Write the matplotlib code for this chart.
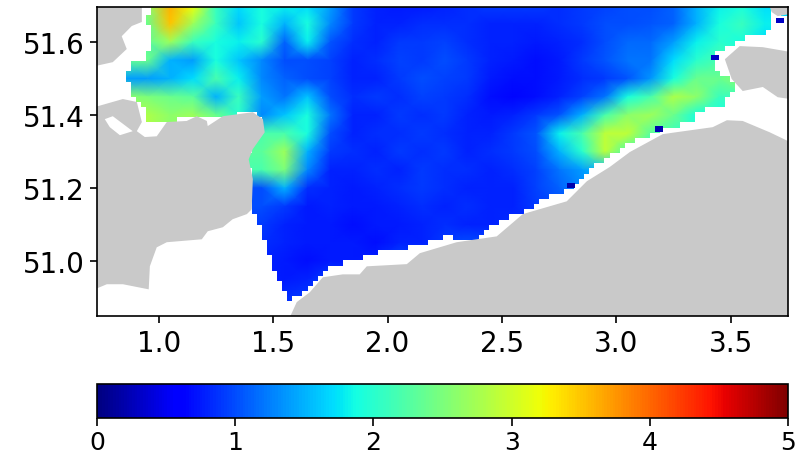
import numpy as np
import matplotlib
matplotlib.use('Agg')
import matplotlib.pyplot as plt
from matplotlib.patches import Polygon

# Grid of the field (columns = lon, rows = lat)
lons = [0.75, 0.85, 0.95, 1.05, 1.15, 1.25, 1.35, 1.45, 1.55, 1.65, 1.75, 1.85, 1.95, 2.05, 2.15, 2.25,
        2.35, 2.45, 2.55, 2.65, 2.75, 2.85, 2.95, 3.05, 3.15, 3.25, 3.35, 3.45, 3.55, 3.65, 3.75]
lats = [51.70, 51.65, 51.60, 51.55, 51.50, 51.45, 51.40, 51.35, 51.30,
        51.25, 51.20, 51.15, 51.10, 51.05, 51.00, 50.95, 50.90, 50.85]

values = [
    [2.6, 2.6, 2.6, 3.6, 3.2, 2.1, 1.7, 1.9, 1.8, 1.7, 1.4, 0.9, 0.8, 0.75, 0.75, 0.8, 0.85, 0.9, 0.9, 0.9, 0.85, 0.9, 0.95, 1.0, 1.0, 1.1, 1.5, 1.8, 1.9, 1.7, 1.7],
    [2.4, 2.4, 2.4, 3.5, 2.7, 2.1, 1.6, 1.9, 1.5, 1.9, 1.3, 0.9, 0.8, 0.8, 0.85, 0.85, 0.85, 0.8, 0.8, 0.8, 0.85, 0.9, 1.0, 1.0, 1.05, 1.1, 1.5, 1.9, 2.1, 1.8, 1.8],
    [2.3, 2.3, 2.3, 2.7, 2.1, 1.9, 1.8, 2.0, 1.1, 1.8, 1.05, 0.85, 0.8, 0.9, 0.9, 0.95, 0.85, 0.8, 0.8, 0.75, 0.8, 0.85, 1.0, 1.15, 1.15, 1.4, 1.8, 2.0, 1.9, 1.7, 1.7],
    [2.3, 2.3, 2.4, 1.5, 1.4, 1.9, 1.6, 1.3, 1.0, 1.0, 0.95, 0.8, 0.85, 0.95, 0.9, 1.0, 0.9, 0.8, 0.75, 0.7, 0.75, 0.9, 1.05, 1.2, 1.2, 1.7, 2.0, 2.2, 2.1, 1.9, 1.9],
    [1.4, 1.4, 1.4, 1.5, 1.7, 2.2, 1.8, 1.3, 1.1, 1.0, 0.95, 0.8, 0.8, 0.9, 1.0, 0.95, 0.9, 0.75, 0.7, 0.7, 0.75, 0.85, 0.9, 1.05, 1.35, 1.9, 2.4, 2.4, 2.6, 2.6, 2.6],
    [2.6, 2.6, 2.5, 2.4, 2.3, 1.5, 2.1, 1.4, 1.2, 1.6, 1.0, 0.85, 0.9, 0.85, 0.95, 0.9, 0.85, 0.7, 0.65, 0.7, 0.8, 0.95, 1.2, 1.9, 2.2, 2.8, 2.6, 2.1, 2.1, 2.1, 2.1],
    [2.8, 2.8, 2.8, 2.6, 2.7, 2.4, 2.0, 1.3, 1.6, 1.9, 1.2, 0.8, 0.8, 0.9, 0.85, 0.9, 0.8, 0.75, 0.8, 0.9, 1.05, 1.5, 2.2, 2.6, 2.7, 2.4, 1.9, 1.9, 1.9, 1.9, 1.9],
    [2.8, 2.8, 2.8, 2.6, 2.6, 2.4, 2.2, 2.2, 2.2, 1.9, 1.0, 0.8, 0.85, 0.85, 0.9, 0.85, 0.8, 0.8, 0.9, 1.05, 1.8, 2.2, 2.9, 2.9, 2.3, 2.1, 2.1, 2.1, 2.1, 2.1, 2.1],
    [2.3, 2.3, 2.3, 2.3, 2.3, 2.3, 2.3, 2.3, 2.7, 1.5, 0.9, 0.85, 0.8, 0.9, 0.85, 0.9, 0.8, 0.85, 0.9, 1.0, 1.5, 2.0, 2.9, 2.2, 2.1, 2.1, 2.1, 2.1, 2.1, 2.1, 2.1],
    [2.2, 2.2, 2.2, 2.2, 2.2, 2.2, 2.2, 2.2, 2.5, 1.3, 0.8, 0.8, 0.85, 0.8, 0.9, 0.85, 0.85, 0.8, 0.85, 0.95, 1.2, 1.4, 1.6, 1.6, 1.6, 1.6, 1.6, 1.6, 1.6, 1.6, 1.6],
    [1.0, 1.0, 1.0, 1.0, 1.0, 1.0, 1.0, 1.0, 1.5, 0.85, 0.8, 0.75, 0.8, 0.85, 0.9, 0.85, 0.8, 0.8, 0.8, 0.95, 1.1, 1.3, 1.3, 1.3, 1.3, 1.3, 1.3, 1.3, 1.3, 1.3, 1.3],
    [1.0, 1.0, 1.0, 1.0, 1.0, 1.0, 1.0, 1.0, 0.9, 0.75, 0.8, 0.75, 0.75, 0.8, 0.85, 0.8, 0.85, 0.8, 0.8, 0.9, 1.0, 1.0, 1.0, 1.0, 1.0, 1.0, 1.0, 1.0, 1.0, 1.0, 1.0],
    [0.9, 0.9, 0.9, 0.9, 0.9, 0.9, 0.9, 0.9, 0.8, 0.75, 0.75, 0.7, 0.75, 0.75, 0.8, 0.85, 0.8, 0.8, 0.85, 0.85, 0.9, 0.9, 0.9, 0.9, 0.9, 0.9, 0.9, 0.9, 0.9, 0.9, 0.9],
    [0.9, 0.9, 0.9, 0.9, 0.9, 0.9, 0.9, 0.85, 0.8, 0.75, 0.75, 0.75, 0.7, 0.8, 0.8, 0.9, 1.0, 0.95, 0.85, 0.85, 0.85, 0.85, 0.85, 0.85, 0.85, 0.85, 0.85, 0.85, 0.85, 0.85, 0.85],
    [0.8, 0.8, 0.8, 0.8, 0.8, 0.8, 0.8, 0.8, 0.75, 0.7, 0.75, 0.75, 0.8, 1.0, 0.95, 1.0, 0.95, 0.9, 0.9, 0.9, 0.9, 0.9, 0.9, 0.9, 0.9, 0.9, 0.9, 0.9, 0.9, 0.9, 0.9],
    [0.8, 0.8, 0.8, 0.8, 0.8, 0.8, 0.8, 0.8, 0.75, 0.8, 0.95, 0.95, 0.95, 0.95, 0.95, 0.95, 0.95, 0.95, 0.95, 0.95, 0.95, 0.95, 0.95, 0.95, 0.95, 0.95, 0.95, 0.95, 0.95, 0.95, 0.95],
    [0.8, 0.8, 0.8, 0.8, 0.8, 0.8, 0.8, 0.8, 0.85, 0.9, 0.95, 0.95, 0.95, 0.95, 0.95, 0.95, 0.95, 0.95, 0.95, 0.95, 0.95, 0.95, 0.95, 0.95, 0.95, 0.95, 0.95, 0.95, 0.95, 0.95, 0.95],
    [0.8, 0.8, 0.8, 0.8, 0.8, 0.8, 0.8, 0.8, 0.85, 0.9, 0.95, 0.95, 0.95, 0.95, 0.95, 0.95, 0.95, 0.95, 0.95, 0.95, 0.95, 0.95, 0.95, 0.95, 0.95, 0.95, 0.95, 0.95, 0.95, 0.95, 0.95],
]

# Outline of the area that has data
sea_lon = [0.974, 3.670, 3.662, 3.552, 3.439, 3.421, 3.526, 3.465, 3.351, 3.334, 3.233, 3.059, 2.971, 2.884,
           2.809, 2.696, 2.591, 2.460, 2.390, 2.259, 2.141, 2.040, 1.909, 1.734, 1.704, 1.629, 1.586, 1.564,
           1.411, 1.411, 1.389, 1.433, 1.450, 1.420, 1.223, 1.035, 0.961, 0.939, 0.882, 0.882, 0.860, 0.882,
           0.886, 0.952, 0.969, 0.948, 0.974]
sea_lat = [51.70, 51.70, 51.627, 51.608, 51.573, 51.534, 51.479, 51.425, 51.408, 51.381, 51.367, 51.326, 51.288,
           51.252, 51.205, 51.170, 51.134, 51.101, 51.060, 51.066, 51.041, 51.033, 51.014, 50.978, 50.959, 50.915,
           50.893, 50.896, 51.142, 51.225, 51.279, 51.362, 51.397, 51.403, 51.397, 51.384, 51.370, 51.416, 51.452,
           51.479, 51.507, 51.526, 51.548, 51.553, 51.627, 51.671, 51.70]

# Isolated cells
spot_lon = [3.714, 3.430, 3.185, 2.801, 3.736]
spot_lat = [51.660, 51.559, 51.362, 51.208, 51.677]
spot_val = [0.3, 0.3, 0.2, 0.2, 1.7]

# Coastlines
land_nw = [(0.72, 51.71), (0.926, 51.71), (0.926, 51.655), (0.882, 51.644), (0.838, 51.616), (0.860, 51.581),
           (0.799, 51.545), (0.72, 51.534)]
land_kent = [(0.72, 51.422), (0.843, 51.444), (0.904, 51.436), (0.926, 51.381), (0.904, 51.356), (0.939, 51.340),
             (0.991, 51.342), (1.035, 51.381), (1.122, 51.384), (1.166, 51.397), (1.210, 51.384), (1.214, 51.370),
             (1.280, 51.397), (1.411, 51.408), (1.455, 51.389), (1.463, 51.353), (1.411, 51.307), (1.393, 51.279),
             (1.411, 51.225), (1.406, 51.142), (1.385, 51.129), (1.323, 51.115), (1.280, 51.093), (1.214, 51.082),
             (1.188, 51.060), (1.035, 51.052), (0.991, 51.038), (0.961, 50.986), (0.956, 50.923), (0.843, 50.937),
             (0.773, 50.937), (0.72, 50.923)]
lake_kent = [(0.764, 51.389), (0.799, 51.397), (0.886, 51.356), (0.830, 51.345), (0.786, 51.367)]
land_france = [(1.568, 50.84), (1.603, 50.888), (1.660, 50.915), (1.717, 50.956), (1.804, 50.964), (1.878, 50.964),
               (1.909, 50.986), (2.084, 50.992), (2.141, 51.022), (2.302, 51.052), (2.477, 51.068), (2.591, 51.129),
               (2.783, 51.164), (2.871, 51.219), (2.971, 51.258), (3.059, 51.299), (3.203, 51.348), (3.421, 51.367),
               (3.483, 51.386), (3.552, 51.384), (3.670, 51.353), (3.76, 51.326), (3.76, 50.84)]
land_walcheren = [(3.474, 51.553), (3.539, 51.589), (3.640, 51.586), (3.76, 51.573), (3.76, 51.444), (3.705, 51.449),
                  (3.640, 51.477), (3.552, 51.466), (3.504, 51.499)]
land_top = [(3.662, 51.71), (3.76, 51.71), (3.76, 51.677), (3.705, 51.671), (3.679, 51.682)]

colorbar_ticks = [0, 1, 2, 3, 4, 5]


# Turn the outline into the blocky edge of the grid cells
def blocky(lon, lat, dx=0.022, dy=0.014):
    t = np.arange(len(lon))
    tt = np.linspace(0, len(lon) - 1, 1500)
    x = np.round(np.interp(tt, t, lon) / dx) * dx
    y = np.round(np.interp(tt, t, lat) / dy) * dy
    return np.column_stack([np.repeat(x, 2)[1:], np.repeat(y, 2)[:-1]])


fig = plt.figure(figsize=(7.97, 4.6), dpi=100)
ax = fig.add_axes([97 / 797, 1 - 317 / 460, 691 / 797, 309 / 460])
cax = fig.add_axes([97 / 797, 1 - 419 / 460, 691 / 797, 34 / 460])

mesh = ax.pcolormesh(lons, lats, np.array(values), cmap='jet', vmin=0, vmax=5, shading='gouraud')
sea = Polygon(blocky(sea_lon, sea_lat), closed=True, transform=ax.transData)
mesh.set_clip_path(sea)

cell = [(-1.5, -1), (1.5, -1), (1.5, 1), (-1.5, 1)]
ax.scatter(spot_lon, spot_lat, c=spot_val, cmap='jet', vmin=0, vmax=5, marker=cell, s=30, linewidths=0, zorder=3)

for land in [land_nw, land_kent, land_france, land_walcheren, land_top]:
    ax.add_patch(Polygon(land, closed=True, facecolor='#c9c9c9', edgecolor='none', zorder=4))
ax.add_patch(Polygon(lake_kent, closed=True, facecolor='white', edgecolor='none', zorder=5))

ax.set_xlim(0.73, 3.75)
ax.set_ylim(50.85, 51.696)
ax.set_xticks([1.0, 1.5, 2.0, 2.5, 3.0, 3.5])
ax.set_yticks([51.0, 51.2, 51.4, 51.6])
ax.tick_params(labelsize=20, length=5, width=1.2, pad=4)
for spine in ax.spines.values():
    spine.set_linewidth(1.2)
    spine.set_zorder(6)

cbar = fig.colorbar(mesh, cax=cax, orientation='horizontal', ticks=colorbar_ticks)
cbar.ax.tick_params(labelsize=18, length=5.5, width=1.2, pad=3)
cbar.outline.set_linewidth(1.2)

plt.savefig('out.png', dpi=100)
plt.close()
